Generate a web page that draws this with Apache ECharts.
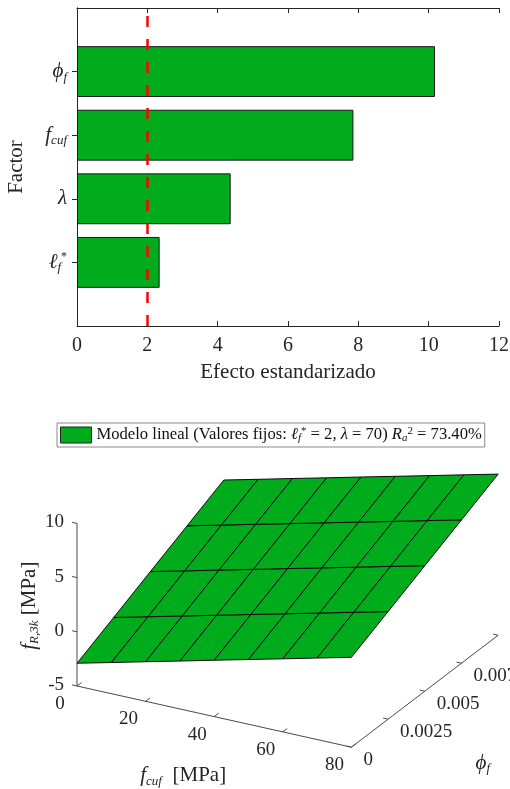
<!DOCTYPE html>
<html><head><meta charset="utf-8">
<script src="https://cdn.jsdelivr.net/npm/echarts@6/dist/echarts.min.js"></script>
<style>html,body{margin:0;padding:0;background:#fff}#c{width:510px;height:789px}</style>
</head><body><div id="c"></div>
<script>
// ---------- Top chart data ----------
const factorNames = ['', 'lf', 'lambda', 'fcuf', 'phif', ''];
const effectValues = [null, 2.35, 4.37, 7.86, 10.18, null];
const effectTicks = [0, 2, 4, 6, 8, 10, 12];
const thresholdValue = 2;

// ---------- Surface data ----------
const fcufGrid = [0, 10, 20, 30, 40, 50, 60, 70, 80];
const phiGrid = [0, 0.0025, 0.005, 0.0075, 0.01];
const fR3kSurface = [
  [-2.90, -2.13, -1.35, -0.58, 0.20, 0.97, 1.74, 2.52, 3.29],
  [-1.26, -0.49, 0.29, 1.06, 1.84, 2.61, 3.38, 4.16, 4.93],
  [0.39, 1.16, 1.94, 2.71, 3.49, 4.26, 5.03, 5.81, 6.58],
  [2.03, 2.80, 3.58, 4.35, 5.13, 5.90, 6.67, 7.45, 8.22],
  [3.67, 4.44, 5.22, 5.99, 6.77, 7.54, 8.31, 9.09, 9.86]
];
const fcufTicks = [0, 20, 40, 60, 80];
const phiTicks = [0, 0.0025, 0.005, 0.0075, 0.01];
const phiTickLabels = ['0', '0.0025', '0.005', '0.0075', '0.01'];
const fR3kTicks = [-5, 0, 5, 10];
const fcufRange = [0, 80];
const phiRange = [0, 0.01];
const fR3kRange = [-5, 10];

// ---------- Styling ----------
const GREEN = '#00AB1C';
const AXIS = '#262626';
const FONT = 'Liberation Serif';

const richBase = {
  m: {fontFamily: FONT, fontStyle: 'italic', fontSize: 21, color: AXIS, lineHeight: 24, verticalAlign: 'middle'},
  s: {fontFamily: FONT, fontStyle: 'italic', fontSize: 13, color: AXIS, lineHeight: 12, verticalAlign: 'bottom'},
  p: {fontFamily: FONT, fontSize: 12, color: AXIS, lineHeight: 12, verticalAlign: 'top'},
  n: {fontFamily: FONT, fontSize: 20, color: AXIS, lineHeight: 24, verticalAlign: 'middle'}
};
const factorRich = {
  lf: '{m|ℓ}{s|f}{p|*}',
  lambda: '{m|λ}',
  fcuf: '{m|f}{s|cuf}',
  phif: '{m|ϕ}{s|f}'
};

const legendName = 'Modelo lineal';
const legendRichText = 'Modelo lineal (Valores fijos: {i|ℓ}{s|f}{p|*} = 2, {i|λ} = 70) {i|R}{s|a}{p|2} = 73.40%';

// projection of the 3-D box onto the view plane
const VIEW = {ax: 274.4, bx: 146.8, ay: -61.2, by: 112, cz: 162.6};
function proj(f, p, z) {
  const u = (f - fcufRange[0]) / (fcufRange[1] - fcufRange[0]);
  const w = (p - phiRange[0]) / (phiRange[1] - phiRange[0]);
  const t = (z - fR3kRange[0]) / (fR3kRange[1] - fR3kRange[0]);
  return [VIEW.ax * u + VIEW.bx * w, VIEW.ay * u + VIEW.by * w + VIEW.cz * t];
}

const cells = [];
for (let j = 0; j < phiGrid.length - 1; j++)
  for (let i = 0; i < fcufGrid.length - 1; i++) cells.push([i, j]);

const chart = echarts.init(document.getElementById('c'));

const axisLineStyle = {show: true, lineStyle: {color: AXIS, width: 1}};
const tickStyle = {show: true, inside: true, length: 5, lineStyle: {color: AXIS}};

const option = {
  animation: false,
  backgroundColor: '#fff',
  legend: {
    data: [{name: legendName, icon: 'rect'}],
    left: 57, top: 423,
    itemWidth: 31, itemHeight: 16,
    padding: [3, 3, 3, 3],
    borderColor: '#8a8a8a', borderWidth: 1,
    selectedMode: false,
    formatter: () => legendRichText,
    itemStyle: {borderColor: '#222', borderWidth: 1},
    textStyle: {
      fontFamily: FONT, fontSize: 16.6, color: '#111',
      rich: {
        i: {fontFamily: FONT, fontStyle: 'italic', fontSize: 16.6, color: '#111', lineHeight: 18, verticalAlign: 'middle'},
        s: {fontFamily: FONT, fontStyle: 'italic', fontSize: 11, color: '#111', lineHeight: 9, verticalAlign: 'bottom'},
        p: {fontFamily: FONT, fontSize: 11, color: '#111', lineHeight: 9, verticalAlign: 'top'}
      }
    }
  },
  grid: [
    {left: 77, right: 11, top: 8, height: 318, outerBoundsMode: 'none', containLabel: false},
    {left: 77, top: 411.4, width: 421.2, height: 335.8, outerBoundsMode: 'none', containLabel: false}
  ],
  xAxis: [
    {type: 'value', gridIndex: 0, min: effectTicks[0], max: effectTicks[effectTicks.length - 1], interval: effectTicks[1] - effectTicks[0],
     position: 'bottom', axisLine: axisLineStyle, axisTick: tickStyle, splitLine: {show: false},
     axisLabel: {fontFamily: FONT, fontSize: 20, color: AXIS, margin: 10},
     name: 'Efecto estandarizado', nameLocation: 'middle', nameGap: 36,
     nameTextStyle: {fontFamily: FONT, fontSize: 21, color: AXIS}},
    {type: 'value', gridIndex: 0, min: effectTicks[0], max: effectTicks[effectTicks.length - 1], interval: effectTicks[1] - effectTicks[0],
     position: 'top', axisLine: axisLineStyle, axisTick: tickStyle, splitLine: {show: false}, axisLabel: {show: false}},
    {type: 'value', gridIndex: 1, min: 0, max: VIEW.ax + VIEW.bx, show: false}
  ],
  yAxis: [
    {type: 'category', gridIndex: 0, data: factorNames, boundaryGap: false,
     axisLine: axisLineStyle,
     axisTick: Object.assign({}, tickStyle, {interval: (i) => i > 0 && i < factorNames.length - 1}),
     axisLabel: {interval: 0, margin: 10, formatter: v => factorRich[v] || '', rich: richBase},
     name: 'Factor', nameLocation: 'middle', nameGap: 50, nameRotate: 90,
     nameTextStyle: {fontFamily: FONT, fontSize: 21, color: AXIS}},
    {type: 'category', gridIndex: 0, data: factorNames, boundaryGap: false, position: 'right',
     axisLine: axisLineStyle,
     axisTick: Object.assign({}, tickStyle, {interval: (i) => i > 0 && i < factorNames.length - 1}),
     axisLabel: {show: false}},
    {type: 'value', gridIndex: 1, min: VIEW.ay, max: VIEW.by + VIEW.cz, show: false}
  ],
  series: [
    {
      type: 'bar', xAxisIndex: 0, yAxisIndex: 0, data: effectValues, barWidth: '80%',
      itemStyle: {color: GREEN, borderColor: '#1a1a1a', borderWidth: 1},
      markLine: {
        silent: true, symbol: 'none', label: {show: false},
        lineStyle: {color: '#ff0000', width: 2.5, type: [11, 12]},
        data: [{xAxis: thresholdValue}]
      }
    },
    {
      type: 'custom', name: '__axes3d', xAxisIndex: 2, yAxisIndex: 2, clip: false, silent: true,
      data: [[0, 0]],
      renderItem: (params, api) => {
        const P = (f, p, z) => api.coord(proj(f, p, z));
        const ch = [];
        const line = (a, b) => ch.push({type: 'line', shape: {x1: a[0], y1: a[1], x2: b[0], y2: b[1]}, style: {stroke: '#4a4a4a', lineWidth: 1}});
        const txt = (x, y, text, align, va, extra) => ch.push({type: 'text', x, y,
          style: Object.assign({text, fill: AXIS, fontFamily: FONT, fontSize: 19, align, verticalAlign: va}, extra || {})});
        const f0 = fcufRange[0], f1 = fcufRange[1], p0 = phiRange[0], p1 = phiRange[1], z0 = fR3kRange[0], z1 = fR3kRange[1];
        line(P(f0, p0, z0), P(f1, p0, z0));
        line(P(f1, p0, z0), P(f1, p1, z0));
        line(P(f0, p0, z0), P(f0, p0, z1));
        const dPhi = (p1 - p0) * 0.03, dF = (f1 - f0) * 0.018;
        fcufTicks.forEach(v => {
          const a = P(v, p0, z0); line(a, P(v, p0 + dPhi, z0));
          txt(a[0] - 17, a[1] + 18, String(v), 'center', 'middle');
        });
        phiTicks.forEach((v, k) => {
          const a = P(f1, v, z0); line(a, P(f1 - dF, v, z0));
          txt(a[0] + 12, a[1] + 13, phiTickLabels[k], 'left', 'middle');
        });
        fR3kTicks.forEach(v => {
          const a = P(f0, p0, v); line(a, P(f0 - dF, p0, v));
          txt(a[0] - 13, a[1] - 1, String(v), 'right', 'middle');
        });
        const rich = {
          i: {fontFamily: FONT, fontStyle: 'italic', fontSize: 21, fill: AXIS, lineHeight: 24, verticalAlign: 'middle'},
          s: {fontFamily: FONT, fontStyle: 'italic', fontSize: 13, fill: AXIS, lineHeight: 12, verticalAlign: 'bottom'},
          n: {fontFamily: FONT, fontSize: 21, fill: AXIS, lineHeight: 24, verticalAlign: 'middle'}
        };
        const zm = P(f0, p0, (z0 + z1) / 2);
        txt(zm[0] - 48, zm[1] + 1, '{i|f}{s|R,3k}{n| [MPa]}', 'center', 'middle', {rich});
        ch[ch.length - 1].rotation = Math.PI / 2;
        const fm = P((f0 + f1) / 2, p0, z0);
        txt(fm[0] - 31, fm[1] + 59, '{i|f}{s|cuf}{n|  [MPa]}', 'center', 'middle', {rich});
        const pm = P(f1, (p0 + p1) / 2, z0);
        txt(pm[0] + 58, pm[1] + 72, '{i|ϕ}{s|f}', 'center', 'middle', {rich});
        return {type: 'group', children: ch};
      }
    },
    {
      type: 'custom', name: legendName, xAxisIndex: 2, yAxisIndex: 2, clip: false,
      itemStyle: {color: GREEN, borderColor: '#222', borderWidth: 1},
      data: cells,
      renderItem: (params, api) => {
        const i = api.value(0), j = api.value(1);
        const pts = [[i, j], [i + 1, j], [i + 1, j + 1], [i, j + 1]].map(([a, b]) =>
          api.coord(proj(fcufGrid[a], phiGrid[b], fR3kSurface[b][a])));
        return {type: 'polygon', shape: {points: pts}, style: {fill: GREEN, stroke: '#0d0d0d', lineWidth: 1}};
      }
    }
  ]
};
chart.setOption(option);
</script>
</body></html>
